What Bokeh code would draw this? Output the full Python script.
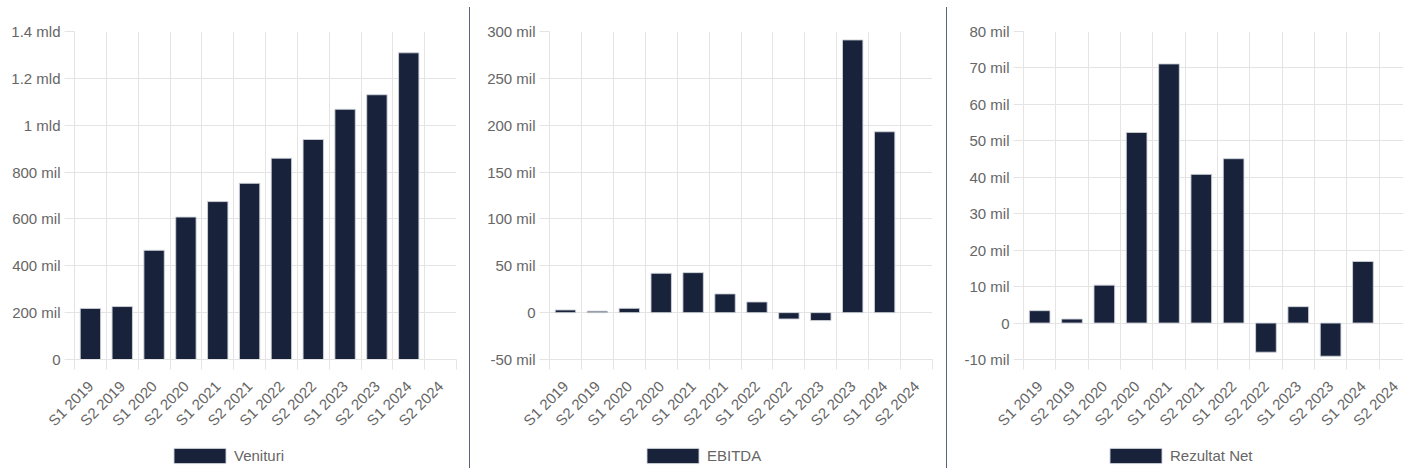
import math
from bokeh.plotting import figure
from bokeh.models import FixedTicker, Range1d, Legend, LegendItem, Div, ColumnDataSource
from bokeh.layouts import row, column
from bokeh.embed import file_html
from bokeh.resources import INLINE

categories = ["S1 2019", "S2 2019", "S1 2020", "S2 2020", "S1 2021", "S2 2021",
              "S1 2022", "S2 2022", "S1 2023", "S2 2023", "S1 2024", "S2 2024"]

venituri = [218e6, 226e6, 466e6, 608e6, 674e6, 752e6, 859e6, 939e6, 1068e6, 1130e6, 1309e6, None]
ebitda = [2.9e6, 1.6e6, 4.6e6, 42e6, 42.7e6, 20e6, 11.4e6, -6.8e6, -8.5e6, 291e6, 193e6, None]
rezultat_net = [3.4e6, 1.1e6, 10.4e6, 52.3e6, 71.1e6, 40.8e6, 45.1e6, -8.0e6, 4.5e6, -9.1e6, 16.9e6, None]

ven_ticks = [0, 200e6, 400e6, 600e6, 800e6, 1000e6, 1200e6, 1400e6]
ven_tick_labels = ["0", "200 mil", "400 mil", "600 mil", "800 mil", "1 mld", "1.2 mld", "1.4 mld"]

ebitda_ticks = [-50e6, 0, 50e6, 100e6, 150e6, 200e6, 250e6, 300e6]
ebitda_tick_labels = ["-50 mil", "0", "50 mil", "100 mil", "150 mil", "200 mil", "250 mil", "300 mil"]

rez_ticks = [-10e6, 0, 10e6, 20e6, 30e6, 40e6, 50e6, 60e6, 70e6, 80e6]
rez_tick_labels = ["-10 mil", "0", "10 mil", "20 mil", "30 mil", "40 mil", "50 mil", "60 mil", "70 mil", "80 mil"]

BAR = "#18223b"
BAR_LINE = "#cfd2d9"
GRID = "#e4e4e4"
TXT = "#666666"
FONT = "Liberation Sans"
CHART_H = 440
LEG_H = 28


def make_panel(values, name, yticks, ylabels, width, bl, br, x_end, legend_x):
    n = len(categories)
    centers = [i + 0.5 for i in range(n)]
    bounds = list(range(n + 1))
    xs = [centers[i] for i, v in enumerate(values) if v is not None]
    tops = [v for v in values if v is not None]
    src = ColumnDataSource(dict(x=xs, top=tops))

    p = figure(width=width, height=CHART_H, output_backend="svg", toolbar_location=None,
               x_range=Range1d(0, x_end), y_range=Range1d(yticks[0], yticks[-1]),
               min_border_left=bl, min_border_right=br, min_border_top=31,
               min_border_bottom=CHART_H - 359)
    p.outline_line_color = None

    p.vbar(x="x", top="top", bottom=0, width=0.64, source=src,
           fill_color=BAR, line_color=BAR_LINE, line_width=0.9)

    # x axis: labels at category centres, ticks/grid at category boundaries
    p.xaxis.ticker = FixedTicker(ticks=centers, minor_ticks=bounds)
    p.xaxis.major_label_overrides = {c: lab for c, lab in zip(centers, categories)}
    p.xaxis.major_label_orientation = math.pi / 4
    p.xaxis.major_tick_line_color = None
    p.xaxis.minor_tick_line_color = GRID
    p.xaxis.minor_tick_out = 10
    p.xaxis.minor_tick_in = 0
    p.xaxis.axis_line_color = GRID
    p.xaxis.major_label_standoff = 14
    p.xgrid.ticker = FixedTicker(ticks=bounds)
    p.xgrid.grid_line_color = GRID

    # y axis
    p.yaxis.ticker = FixedTicker(ticks=yticks)
    p.yaxis.major_label_overrides = {t: lab for t, lab in zip(yticks, ylabels)}
    p.yaxis.major_tick_line_color = GRID
    p.yaxis.major_tick_out = 10
    p.yaxis.major_tick_in = 0
    p.yaxis.minor_tick_line_color = None
    p.yaxis.axis_line_color = GRID
    p.yaxis.major_label_standoff = 4
    p.ygrid.ticker = FixedTicker(ticks=yticks)
    p.ygrid.grid_line_color = GRID

    for ax in (p.xaxis, p.yaxis):
        ax.major_label_text_font = FONT
        ax.major_label_text_font_size = "15px"
        ax.major_label_text_color = TXT

    # legend strip below the chart (its frame is aligned with the chart frame)
    lg = figure(width=width, height=LEG_H, output_backend="svg", toolbar_location=None,
                x_range=Range1d(0, x_end), y_range=Range1d(0, 1),
                x_axis_location=None, y_axis_location=None,
                min_border_left=bl, min_border_right=br, min_border_top=0, min_border_bottom=0)
    lg.outline_line_color = None
    lg.grid.visible = False
    r = lg.vbar(x="x", top="top", bottom=0, width=0.64, source=src,
                fill_color=BAR, line_color=BAR_LINE, line_width=0.9)
    r.visible = False
    legend = Legend(items=[LegendItem(label=name, renderers=[r])],
                    location=(legend_x, 3), orientation="horizontal",
                    glyph_width=65, glyph_height=19, label_height=19,
                    label_standoff=2, padding=0, margin=0, spacing=0,
                    border_line_color=None, background_fill_alpha=0,
                    label_text_font=FONT, label_text_font_size="15px",
                    label_text_color=TXT)
    lg.add_layout(legend)
    return column(p, lg, spacing=0)


c1 = make_panel(venituri, "Venituri", ven_ticks, ven_tick_labels, 469, 74, 13, 12, 93)
c2 = make_panel(ebitda, "EBITDA", ebitda_ticks, ebitda_tick_labels, 476, 79, 14, 12, 91)
c3 = make_panel(rezultat_net, "Rezultat Net", rez_ticks, rez_tick_labels, 456, 76, 0, 11.755, 80)

sep1 = Div(width=1, height=461, margin=(7, 0, 0, 0), styles={"background-color": "#5b6478"})
sep2 = Div(width=1, height=461, margin=(7, 0, 0, 0), styles={"background-color": "#5b6478"})

layout = row(c1, sep1, c2, sep2, c3, spacing=0)

open("out.html", "w").write(file_html(layout, INLINE))
